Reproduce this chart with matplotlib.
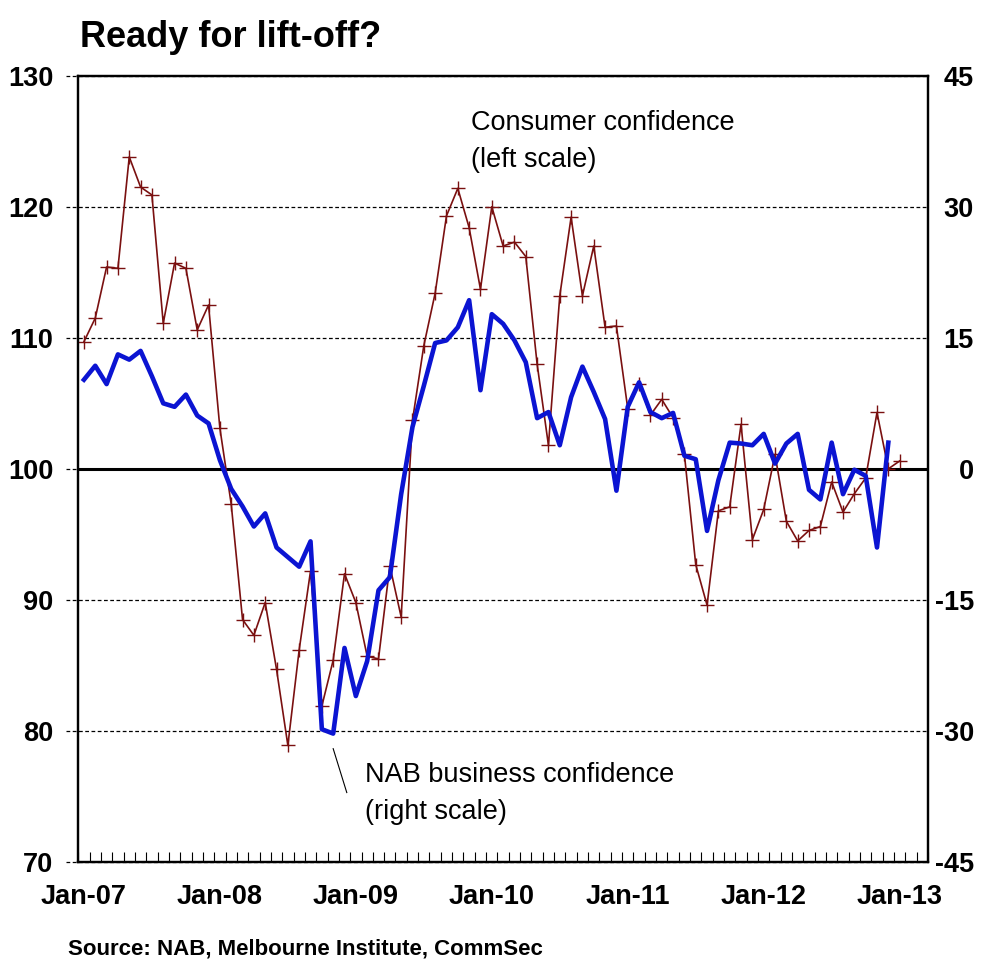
import matplotlib
matplotlib.use("Agg")
import matplotlib.pyplot as plt
from matplotlib.ticker import FixedLocator
import numpy as np

# Monthly readings, Jan-07 onwards
consumer = [
    109.7, 111.5, 115.4, 115.3, 123.8, 121.5, 120.9, 111.1, 115.7, 115.3, 110.6, 112.5,
    103.1, 97.3, 88.5, 87.3, 89.8, 84.7, 78.9, 86.2, 92.2, 81.9, 85.4, 92.0,
    89.8, 85.7, 85.5, 92.6, 88.7, 103.7, 109.4, 113.4, 119.3, 121.4, 118.4, 113.7,
    120.0, 117.0, 117.3, 116.2, 108.0, 101.8, 113.2, 119.2, 113.2, 117.0, 110.8, 110.9,
    104.6, 106.5, 104.1, 105.3, 103.9, 101.1, 92.7, 89.6, 96.8, 97.1, 103.4, 94.6,
    96.9, 101.1, 96.0, 94.5, 95.3, 95.6, 99.0, 96.7, 98.1, 99.3, 104.3, 100.0,
    100.6,
]
business = [
    10.2, 11.8, 9.7, 13.1, 12.5, 13.5, 10.6, 7.5, 7.1, 8.5, 6.1, 5.2,
    1.0, -2.3, -4.3, -6.6, -5.1, -9.0, -10.1, -11.2, -8.3, -29.8, -30.3, -20.5,
    -26.0, -22.0, -13.9, -12.4, -2.9, 4.8, 9.5, 14.4, 14.7, 16.2, 19.3, 9.0,
    17.7, 16.6, 14.7, 12.2, 5.8, 6.5, 2.7, 8.2, 11.7, 8.8, 5.7, -2.5,
    7.1, 9.9, 6.5, 5.8, 6.4, 1.5, 1.1, -7.1, -1.3, 3.0, 2.9, 2.7,
    4.0, 0.6, 2.9, 4.0, -2.4, -3.5, 3.0, -2.9, -0.1, -0.8, -9.0, 3.0,
]
year_labels = ["Jan-07", "Jan-08", "Jan-09", "Jan-10", "Jan-11", "Jan-12", "Jan-13"]
left_ticks = [70, 80, 90, 100, 110, 120, 130]
right_ticks = [-45, -30, -15, 0, 15, 30, 45]

RED = "#7a1010"
BLUE = "#0b14d2"

plt.rcParams["font.family"] = ["Liberation Sans", "DejaVu Sans"]
plt.rcParams["font.weight"] = "bold"

fig = plt.figure(figsize=(9.87, 9.65), dpi=100)
ax = fig.add_axes([0.0793, 0.1067, 0.8609, 0.8149])
ax.set_xlim(-0.5, 74.5)
ax.set_ylim(70, 130)

# dashed gridlines, poking out a little to the left of the frame
for v in left_ticks:
    if v == 100:
        continue
    ax.axhline(v, xmin=-0.015, xmax=1, color="black", lw=0.9,
               ls=(0, (3, 2)), clip_on=False, zorder=1)
ax.axhline(100, xmin=-0.015, xmax=0, color="black", lw=0.9,
           ls=(0, (3, 2)), clip_on=False, zorder=1)
ax.axhline(100, color="black", lw=2.2, zorder=2)

months = np.arange(len(consumer))
ax.plot(months, consumer, color=RED, lw=1.2, marker="+", ms=10, mew=1.0, zorder=3)

ax.set_yticks(left_ticks)
ax.set_yticklabels([str(v) for v in left_ticks])
ax.tick_params(axis="y", length=0, pad=18, labelsize=19.5)
ax.set_xticks(range(0, 73, 12))
ax.set_xticklabels(year_labels)
ax.tick_params(axis="x", length=0, pad=16, labelsize=19.5)
ax.xaxis.set_minor_locator(FixedLocator(np.arange(-0.5, 74.6, 1)))
ax.tick_params(axis="x", which="minor", direction="in", length=7, width=0.8)

ax2 = ax.twinx()
ax2.set_ylim(-45, 45)
ax2.plot(months[:len(business)], business, color=BLUE, lw=3.3, zorder=4)
ax2.set_yticks(right_ticks)
ax2.set_yticklabels([str(v) for v in right_ticks])
ax2.tick_params(axis="y", length=0, pad=33, labelsize=19.5)
for lab in ax2.get_yticklabels():
    lab.set_ha("right")

for a in (ax, ax2):
    for sp in a.spines.values():
        sp.set_linewidth(1.6)
        sp.set_color("black")

# series annotations
ax.text(34.2, 125.0, "Consumer confidence\n(left scale)", fontsize=19.5,
        fontweight="normal", va="center", ha="left", linespacing=1.55)
ax.text(24.8, 75.2, "NAB business confidence\n(right scale)", fontsize=19.5,
        fontweight="normal", va="center", ha="left", linespacing=1.55)
ax.plot([22.0, 23.2], [78.65, 75.3], color="black", lw=0.8)

fig.text(80 / 987, 0.951, "Ready for lift-off?", fontsize=26,
         fontweight="bold", va="baseline")
fig.text(68 / 987, 0.0104, "Source: NAB, Melbourne Institute, CommSec",
         fontsize=16, fontweight="bold", va="baseline")

fig.savefig("out.png", dpi=100)
